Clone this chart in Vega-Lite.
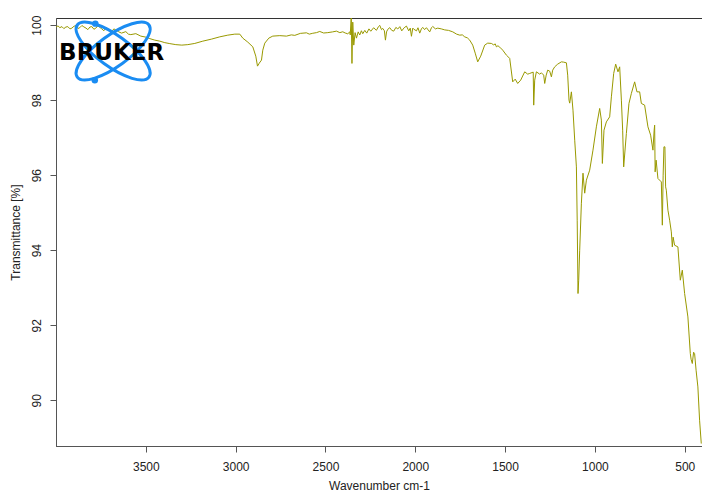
{
  "$schema": "https://vega.github.io/schema/vega-lite/v6.json",
  "width": 646,
  "height": 428,
  "autosize": {"type": "none"},
  "padding": {"left": 56, "top": 18, "right": 0, "bottom": 50},
  "background": "white",
  "config": {
    "view": {"stroke": "#333333", "strokeWidth": 1},
    "font": "Liberation Sans",
    "axis": {
      "labelFont": "Liberation Sans",
      "labelFontSize": 12,
      "labelColor": "#222222",
      "titleFont": "Liberation Sans",
      "titleFontSize": 12,
      "titleFontWeight": "normal",
      "titleColor": "#222222",
      "domainColor": "#555555",
      "tickColor": "#555555",
      "tickSize": 6,
      "grid": false
    }
  },
  "datasets": {
    "spectrum": [
      {"wn": 4000, "T": 99.947}, {"wn": 3989, "T": 99.98}, {"wn": 3978.6, "T": 99.933}, {"wn": 3967, "T": 99.96}, {"wn": 3956.3, "T": 99.907}, {"wn": 3945, "T": 99.95}, {"wn": 3934.1, "T": 99.96},
      {"wn": 3922, "T": 99.9}, {"wn": 3911.8, "T": 99.92}, {"wn": 3900, "T": 99.97}, {"wn": 3889.6, "T": 99.987}, {"wn": 3878, "T": 99.91}, {"wn": 3867.3, "T": 99.933}, {"wn": 3856, "T": 99.99}, {"wn": 3845.0, "T": 99.953},
      {"wn": 3833, "T": 99.92}, {"wn": 3822.8, "T": 99.88}, {"wn": 3811, "T": 99.95}, {"wn": 3800.5, "T": 99.96}, {"wn": 3789, "T": 99.89}, {"wn": 3778.3, "T": 99.92}, {"wn": 3767, "T": 99.98}, {"wn": 3756.0, "T": 99.94},
      {"wn": 3745, "T": 99.9}, {"wn": 3733.7, "T": 99.85}, {"wn": 3722, "T": 99.93}, {"wn": 3711.5, "T": 99.9}, {"wn": 3700, "T": 99.86}, {"wn": 3689.2, "T": 99.83}, {"wn": 3678, "T": 99.9}, {"wn": 3667.0, "T": 99.87},
      {"wn": 3650, "T": 99.82}, {"wn": 3635.2, "T": 99.787}, {"wn": 3611.3, "T": 99.827}, {"wn": 3597, "T": 99.76}, {"wn": 3583.5, "T": 99.747}, {"wn": 3555.7, "T": 99.773},
      {"wn": 3527.8, "T": 99.707}, {"wn": 3500.0, "T": 99.68}, {"wn": 3477.7, "T": 99.64}, {"wn": 3449.9, "T": 99.60},
      {"wn": 3422.1, "T": 99.573}, {"wn": 3394.3, "T": 99.533}, {"wn": 3366.4, "T": 99.507}, {"wn": 3333.0, "T": 99.48},
      {"wn": 3299.7, "T": 99.467}, {"wn": 3266.3, "T": 99.48}, {"wn": 3227.3, "T": 99.512}, {"wn": 3182.8, "T": 99.573},
      {"wn": 3134.4, "T": 99.627}, {"wn": 3088.2, "T": 99.688}, {"wn": 3043.7, "T": 99.733}, {"wn": 3004.7, "T": 99.76},
      {"wn": 2976.9, "T": 99.76}, {"wn": 2960.2, "T": 99.653}, {"wn": 2932.4, "T": 99.547}, {"wn": 2904.5, "T": 99.421},
      {"wn": 2887.9, "T": 99.173}, {"wn": 2878.4, "T": 98.907}, {"wn": 2868.4, "T": 98.987}, {"wn": 2856.2, "T": 99.067},
      {"wn": 2848.9, "T": 99.333}, {"wn": 2837.8, "T": 99.52}, {"wn": 2815.5, "T": 99.653}, {"wn": 2793.3, "T": 99.707},
      {"wn": 2754.3, "T": 99.72}, {"wn": 2717.0, "T": 99.707}, {"wn": 2690, "T": 99.74}, {"wn": 2670.8, "T": 99.727}, {"wn": 2640, "T": 99.78}, {"wn": 2605.7, "T": 99.795},
      {"wn": 2590, "T": 99.76}, {"wn": 2570.7, "T": 99.783}, {"wn": 2550, "T": 99.8}, {"wn": 2531.7, "T": 99.831}, {"wn": 2510, "T": 99.79}, {"wn": 2487.2, "T": 99.80}, {"wn": 2460, "T": 99.82}, {"wn": 2438.8, "T": 99.84},
      {"wn": 2420, "T": 99.8}, {"wn": 2403.7, "T": 99.823}, {"wn": 2390, "T": 99.79}, {"wn": 2375.9, "T": 99.769}, {"wn": 2365, "T": 99.82}, {"wn": 2361.9, "T": 99.74}, {"wn": 2356.4, "T": 100.25},
      {"wn": 2352.5, "T": 98.979}, {"wn": 2348.1, "T": 100.08}, {"wn": 2342.5, "T": 99.467}, {"wn": 2335, "T": 99.8}, {"wn": 2327.5, "T": 99.653},
      {"wn": 2318, "T": 99.82}, {"wn": 2309.1, "T": 99.737}, {"wn": 2300, "T": 99.85}, {"wn": 2292.4, "T": 99.771}, {"wn": 2281, "T": 99.86}, {"wn": 2270.2, "T": 99.787}, {"wn": 2258, "T": 99.9}, {"wn": 2247.9, "T": 99.837},
      {"wn": 2232, "T": 99.93}, {"wn": 2216.2, "T": 99.862}, {"wn": 2205, "T": 99.96}, {"wn": 2197.8, "T": 99.993}, {"wn": 2188, "T": 99.88}, {"wn": 2181.1, "T": 99.913}, {"wn": 2172, "T": 99.85}, {"wn": 2166.1, "T": 99.60},
      {"wn": 2160, "T": 99.82}, {"wn": 2153.3, "T": 99.887}, {"wn": 2142.1, "T": 99.932}, {"wn": 2131, "T": 99.86}, {"wn": 2119.9, "T": 99.84}, {"wn": 2108, "T": 99.94}, {"wn": 2097.6, "T": 99.897},
      {"wn": 2086, "T": 99.96}, {"wn": 2075.4, "T": 99.847}, {"wn": 2062, "T": 99.93}, {"wn": 2049.2, "T": 99.975}, {"wn": 2036.4, "T": 99.847}, {"wn": 2028, "T": 99.92}, {"wn": 2021.4, "T": 99.703},
      {"wn": 2014, "T": 99.92}, {"wn": 2008.6, "T": 99.893}, {"wn": 1993.6, "T": 99.847}, {"wn": 1985, "T": 99.93}, {"wn": 1975.2, "T": 99.787}, {"wn": 1966, "T": 99.9}, {"wn": 1958.5, "T": 99.94},
      {"wn": 1948, "T": 99.88}, {"wn": 1937.9, "T": 99.932}, {"wn": 1928, "T": 99.87}, {"wn": 1919.6, "T": 99.82}, {"wn": 1910, "T": 99.93}, {"wn": 1902.8, "T": 99.965}, {"wn": 1888, "T": 99.9}, {"wn": 1875.0, "T": 99.92},
      {"wn": 1855, "T": 99.9}, {"wn": 1836.1, "T": 99.873}, {"wn": 1815, "T": 99.86}, {"wn": 1791.6, "T": 99.821}, {"wn": 1770, "T": 99.76}, {"wn": 1752.6, "T": 99.733}, {"wn": 1738, "T": 99.74}, {"wn": 1724.8, "T": 99.687},
      {"wn": 1710, "T": 99.66}, {"wn": 1697.0, "T": 99.60}, {"wn": 1680.3, "T": 99.467}, {"wn": 1666.4, "T": 99.253}, {"wn": 1652.5, "T": 99.021},
      {"wn": 1635.8, "T": 99.173}, {"wn": 1613.6, "T": 99.467}, {"wn": 1596.9, "T": 99.52}, {"wn": 1576.3, "T": 99.512},
      {"wn": 1563.5, "T": 99.473}, {"wn": 1555, "T": 99.5}, {"wn": 1548.4, "T": 99.421}, {"wn": 1540, "T": 99.45}, {"wn": 1530.0, "T": 99.413}, {"wn": 1513.3, "T": 99.333},
      {"wn": 1492.8, "T": 99.20}, {"wn": 1474.4, "T": 99.112}, {"wn": 1457.7, "T": 98.488}, {"wn": 1443.8, "T": 98.56},
      {"wn": 1429.9, "T": 98.445}, {"wn": 1413.2, "T": 98.533}, {"wn": 1390.9, "T": 98.755}, {"wn": 1374.2, "T": 98.693},
      {"wn": 1363.1, "T": 98.712}, {"wn": 1343.6, "T": 98.747}, {"wn": 1340.8, "T": 97.867}, {"wn": 1335.3, "T": 98.533},
      {"wn": 1325.8, "T": 98.755}, {"wn": 1307.4, "T": 98.693}, {"wn": 1298.0, "T": 98.728}, {"wn": 1285.2, "T": 98.667},
      {"wn": 1279.6, "T": 98.445}, {"wn": 1271.3, "T": 98.667}, {"wn": 1262.9, "T": 98.80}, {"wn": 1251.8, "T": 98.773},
      {"wn": 1242.3, "T": 98.621}, {"wn": 1235.1, "T": 98.80}, {"wn": 1224.0, "T": 98.888}, {"wn": 1207.3, "T": 98.96},
      {"wn": 1186.7, "T": 99.021}, {"wn": 1173.8, "T": 99.013}, {"wn": 1158.8, "T": 98.995}, {"wn": 1151.6, "T": 98.667},
      {"wn": 1144.3, "T": 98.00}, {"wn": 1140.4, "T": 97.92}, {"wn": 1131.0, "T": 98.221}, {"wn": 1122.1, "T": 97.733},
      {"wn": 1112.6, "T": 96.933}, {"wn": 1103.2, "T": 96.221}, {"wn": 1098.7, "T": 94.80}, {"wn": 1094.2, "T": 92.845},
      {"wn": 1090.4, "T": 93.20}, {"wn": 1084.8, "T": 94.0}, {"wn": 1075.4, "T": 95.253}, {"wn": 1066.5, "T": 96.053},
      {"wn": 1057.0, "T": 95.52}, {"wn": 1047.6, "T": 95.867}, {"wn": 1029.2, "T": 96.133}, {"wn": 1010.9, "T": 96.667},
      {"wn": 992.0, "T": 97.288}, {"wn": 973.6, "T": 97.779}, {"wn": 964.1, "T": 97.467}, {"wn": 958.6, "T": 96.312},
      {"wn": 949.6, "T": 97.20}, {"wn": 936.3, "T": 97.421}, {"wn": 917.9, "T": 97.555}, {"wn": 908.4, "T": 98.088},
      {"wn": 895.6, "T": 98.712}, {"wn": 884.5, "T": 98.96}, {"wn": 871.7, "T": 98.755}, {"wn": 862.2, "T": 98.888},
      {"wn": 852.8, "T": 98.0}, {"wn": 845.6, "T": 97.20}, {"wn": 840.0, "T": 96.221}, {"wn": 825.0, "T": 97.112},
      {"wn": 810.6, "T": 97.912}, {"wn": 797.2, "T": 98.179}, {"wn": 778.9, "T": 98.488}, {"wn": 766.1, "T": 98.221},
      {"wn": 751.1, "T": 98.221}, {"wn": 741.6, "T": 97.912}, {"wn": 723.3, "T": 97.867}, {"wn": 704.9, "T": 97.288},
      {"wn": 689.9, "T": 97.067}, {"wn": 677.1, "T": 96.667}, {"wn": 670.4, "T": 97.20}, {"wn": 667.6, "T": 97.333},
      {"wn": 664.9, "T": 96.088}, {"wn": 659.3, "T": 96.40}, {"wn": 649.3, "T": 95.912}, {"wn": 630.4, "T": 95.821},
      {"wn": 624.8, "T": 94.667}, {"wn": 620.3, "T": 96.0}, {"wn": 615.9, "T": 96.755}, {"wn": 610.4, "T": 96.755},
      {"wn": 606.5, "T": 95.688}, {"wn": 602.6, "T": 95.60}, {"wn": 593.7, "T": 95.067}, {"wn": 584.2, "T": 94.80},
      {"wn": 574.8, "T": 94.488}, {"wn": 569.2, "T": 94.088}, {"wn": 564.8, "T": 94.347}, {"wn": 556.5, "T": 94.133},
      {"wn": 538.1, "T": 94.088}, {"wn": 524.7, "T": 93.20}, {"wn": 513.6, "T": 93.467}, {"wn": 500.8, "T": 92.845},
      {"wn": 482.5, "T": 92.221}, {"wn": 469.1, "T": 91.245}, {"wn": 464.7, "T": 91.093}, {"wn": 458.0, "T": 90.979},
      {"wn": 450.8, "T": 91.28}, {"wn": 445.2, "T": 91.245}, {"wn": 436.9, "T": 90.80}, {"wn": 426.9, "T": 90.355},
      {"wn": 417.4, "T": 89.467}, {"wn": 408.0, "T": 88.845}
    ],
    "orbits": [{"wn": 3682, "T": 99.309}],
    "nuclei": [{"wn": 3781, "T": 100.04}, {"wn": 3784, "T": 98.533}],
    "brand": [{"wn": 3690, "T": 99.253, "label": "BRUKER"}]
  },
  "encoding": {
    "x": {
      "field": "wn", "type": "quantitative",
      "scale": {"domain": [404, 4000], "reverse": true, "nice": false, "zero": false},
      "axis": {
        "values": [3500, 3000, 2500, 2000, 1500, 1000, 500],
        "format": "d",
        "title": "Wavenumber cm-1",
        "labelPadding": 9,
        "titlePadding": 8,
        "labelFlush": false,
        "labelOverlap": false
      }
    },
    "y": {
      "field": "T", "type": "quantitative",
      "scale": {"domain": [88.78, 100.19], "nice": false, "zero": false},
      "axis": {
        "values": [90, 92, 94, 96, 98, 100],
        "format": "d",
        "title": "Transmittance [%]",
        "labelAngle": 270,
        "labelAlign": "center",
        "labelBaseline": "bottom",
        "labelPadding": 7,
        "titlePadding": 8,
        "labelFlush": false,
        "labelOverlap": false
      }
    }
  },
  "layer": [
    {
      "data": {"name": "spectrum"},
      "mark": {"type": "line", "color": "#999900", "strokeWidth": 1, "clip": true, "interpolate": "linear"}
    },
    {
      "data": {"name": "orbits"},
      "mark": {
        "type": "point",
        "shape": "M0.809,0.588A1,0.35,36,1,1,-0.809,-0.588A1,0.35,36,1,1,0.809,0.588Z M0.809,-0.588A1,0.35,-36,1,1,-0.809,0.588A1,0.35,-36,1,1,0.809,-0.588Z",
        "size": 7850,
        "filled": false,
        "stroke": "#1a8cf2",
        "strokeWidth": 3,
        "opacity": 1
      }
    },
    {
      "data": {"name": "nuclei"},
      "mark": {"type": "point", "shape": "circle", "size": 42, "filled": true, "color": "#1a8cf2", "opacity": 1}
    },
    {
      "data": {"name": "brand"},
      "mark": {"type": "text", "font": "DejaVu Sans", "fontWeight": "bold", "fontSize": 23, "color": "#000000", "align": "center", "baseline": "middle"},
      "encoding": {"text": {"field": "label"}}
    }
  ]
}
